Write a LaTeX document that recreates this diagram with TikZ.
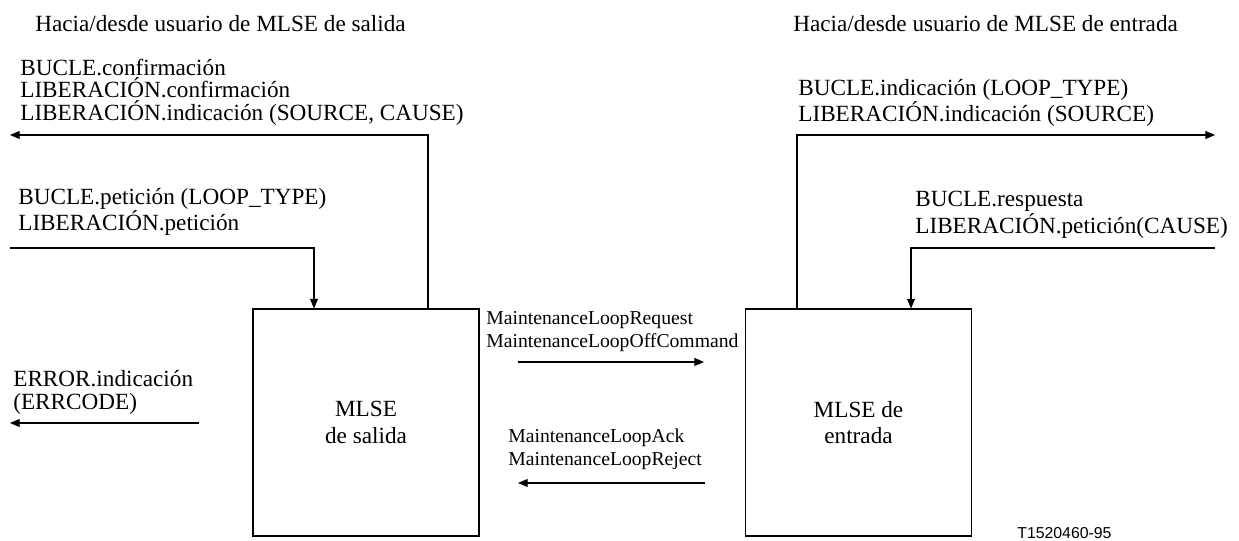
\documentclass[tikz,border=0pt]{standalone}
\usepackage{fontspec}
\setmainfont{Liberation Serif}
\newfontfamily\tagfont{Liberation Sans}
\usetikzlibrary{arrows.meta,positioning}

\begin{document}
\begin{tikzpicture}[
  every node/.style={font=\fontsize{13.2}{13}\selectfont},
  blk/.style={
    draw,
    line width=0.6pt,
    align=center,
    minimum width=4.52cm,
    minimum height=4.54cm,
    inner sep=0pt,
    font=\fontsize{13.2}{15}\selectfont
  },
  sig/.style={-{Triangle[length=5.5pt,width=4.5pt]},line width=0.6pt},
  txt/.style={anchor=south west,align=left,inner sep=0pt},
  msg/.style={txt,font=\fontsize{11.2}{12.8}\selectfont},
  ttl/.style={anchor=base west,inner sep=0pt}
]
\useasboundingbox (0,0) rectangle (24.78,10.8);
 \node[ttl] (ttlOut) at (0.70,10.17) {Hacia/desde usuario de MLSE de salida};
 \node[ttl] (ttlIn) at (15.86,10.17) {Hacia/desde usuario de MLSE de entrada};
 \node[blk] (salida) at (7.32,2.35) {MLSE\\de salida};
 \node[blk] (entrada) at (17.17,2.35) {MLSE de\\entrada};
 % primitives on the outgoing side
 \node[txt] (cnfTxt) at (0.40,8.28) {BUCLE.confirmación\\LIBERACIÓN.confirmación\\LIBERACIÓN.indicación (SOURCE, CAUSE)};
 \node[txt] (petTxt) at (0.36,6.08) {BUCLE.petición (LOOP\_TYPE)\\LIBERACIÓN.petición};
 \node[txt] (errTxt) at (0.26,2.50) {ERROR.indicación\\(ERRCODE)};
 \coordinate (cnfEnd) at (0.2,8.10);
 \coordinate (petStart) at (0.2,5.84);
 \coordinate (errStart) at (3.98,2.34);
 \coordinate (errEnd) at (0.2,2.34);
 \draw[sig] ([xshift=1.24cm]salida.north) |- (cnfEnd);
 \draw[sig] (petStart) -| ([xshift=-1.04cm]salida.north);
 \draw[sig] (errStart) -- (errEnd);
 % primitives on the incoming side
 \node[txt] (indTxt) at (15.96,8.26) {BUCLE.indicación (LOOP\_TYPE)\\LIBERACIÓN.indicación (SOURCE)};
 \node[txt] (rspTxt) at (18.30,6.03) {BUCLE.respuesta\\LIBERACIÓN.petición(CAUSE)};
 \coordinate (indEnd) at (24.30,8.10);
 \coordinate (rspStart) at (24.30,5.84);
 \draw[sig] ([xshift=-1.23cm]entrada.north) |- (indEnd);
 \draw[sig] (rspStart) -| ([xshift=1.05cm]entrada.north);
 % messages between the two entities
 \node[msg] (reqTxt) at (9.72,3.76) {MaintenanceLoopRequest\\MaintenanceLoopOffCommand};
 \node[msg] (ackTxt) at (10.16,1.40) {MaintenanceLoopAck\\MaintenanceLoopReject};
 \coordinate (reqStart) at (10.36,3.56);
 \coordinate (reqEnd) at (14.08,3.56);
 \coordinate (ackStart) at (14.10,1.14);
 \coordinate (ackEnd) at (10.36,1.14);
 \draw[sig] (reqStart) -- (reqEnd);
 \draw[sig] (ackStart) -- (ackEnd);
 \node[ttl,font=\tagfont\fontsize{9}{9}\selectfont] (tag) at (20.34,0.04) {T1520460-95};
\end{tikzpicture}
\end{document}
